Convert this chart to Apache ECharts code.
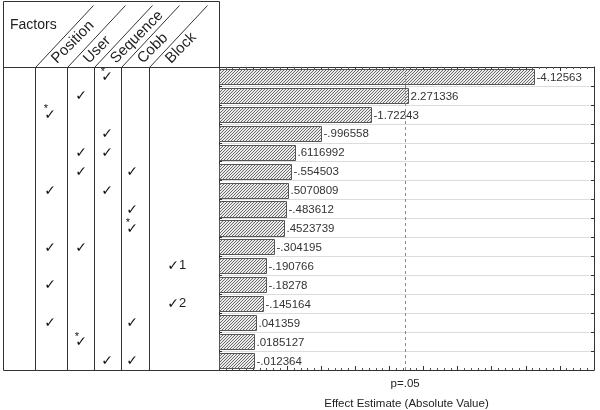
<!DOCTYPE html>
<html><head><meta charset="utf-8">
<script src="https://cdn.jsdelivr.net/npm/echarts@6/dist/echarts.min.js"></script>
<style>html,body{margin:0;padding:0;background:#fff}#c{width:600px;height:410px}</style>
</head><body><div id="c"></div>
<script>
// ---- data ----
const factorNames = ['Position', 'User', 'Sequence', 'Cobb', 'Block'];
const effectLabels = ['-4.12563', '2.271336', '-1.72243', '-.996558', '.6116992', '-.554503', '.5070809', '-.483612', '.4523739', '-.304195', '-.190766', '-.18278', '-.145164', '.041359', '.0185127', '-.012364'];
const effectValues = [-4.12563, 2.271336, -1.72243, -0.996558, 0.6116992, -0.554503, 0.5070809, -0.483612, 0.4523739, -0.304195, -0.190766, -0.18278, -0.145164, 0.041359, 0.0185127, -0.012364];
// checked factor columns per row (index into factorNames)
const rowChecks = [[2], [1], [0], [2], [1, 2], [1, 3], [0, 2], [3], [3], [0, 1], [4], [0], [4], [0, 3], [1], [2, 3]];
// column that carries an asterisk in each row (-1 = none)
const rowStar = [2, -1, 0, -1, -1, -1, -1, -1, 3, -1, -1, -1, -1, -1, 1, -1];
// block level note per row
const rowBlockNote = ['', '', '', '', '', '', '', '', '', '', '1', '', '2', '', '', ''];
const pLineValue = 2.228;
const pLineLabel = 'p=.05';
const xAxisName = 'Effect Estimate (Absolute Value)';
const headerTitle = 'Factors';
const xMin = -0.5, xMax = 5, xInterval = 0.5;

// ---- layout constants ----
const GL = 219, GR = 6, GT = 67, GB = 40;
const tblLeft = 3, tblTop = 1, tblRight = 219, tblBottom = 370;
const colLines = [35, 67, 94, 121, 149];
const checkX = [50, 81, 107, 132, 173];

const categories = effectValues.map((v, i) => 'F' + (i + 1));
const absValues = effectValues.map(v => Math.abs(v));

// hatch pattern
const pc = document.createElement('canvas');
pc.width = 3; pc.height = 3;
const pctx = pc.getContext('2d');
pctx.fillStyle = '#ececec'; pctx.fillRect(0, 0, 3, 3);
pctx.fillStyle = '#6a6a6a';
for (let x = 0; x < 3; x++) for (let y = 0; y < 3; y++) if ((x + y) % 3 === 2) pctx.fillRect(x, y, 1, 1);
const hatch = {image: pc, repeat: 'repeat'};

const chart = echarts.init(document.getElementById('c'), null, {renderer: 'canvas'});
const FONT = 'Liberation Sans, Arial, sans-serif';
const axisLineStyle = {color: '#333', width: 1};
const xAxisCommon = {
  type: 'value', min: xMin, max: xMax, interval: xInterval,
  axisLine: {show: true, onZero: false, lineStyle: axisLineStyle},
  axisTick: {show: true, inside: true, length: 4, lineStyle: {color: '#333'}},
  minorTick: {show: true, splitNumber: 5, length: 2, lineStyle: {color: '#555'}},
  axisLabel: {show: false}, splitLine: {show: false}, minorSplitLine: {show: false}
};
const yAxisCommon = {
  type: 'category', data: categories, inverse: true,
  axisLine: {show: true, onZero: false, lineStyle: axisLineStyle},
  axisTick: {show: true, inside: true, length: 3, lineStyle: {color: '#333'}},
  axisLabel: {show: false}
};
chart.setOption({
  animation: false,
  grid: {left: GL, right: GR, top: GT, bottom: GB, containLabel: false, outerBoundsMode: 'none'},
  xAxis: [
    Object.assign({}, xAxisCommon, {position: 'bottom', name: xAxisName, nameLocation: 'middle', nameGap: 28,
      nameTextStyle: {fontFamily: FONT, fontSize: 11.5, color: '#222'}}),
    Object.assign({}, xAxisCommon, {position: 'top'})
  ],
  yAxis: [
    Object.assign({}, yAxisCommon, {position: 'left', splitLine: {show: true, lineStyle: {color: '#dcdcdc', width: 1}}}),
    Object.assign({}, yAxisCommon, {position: 'right', splitLine: {show: false}})
  ],
  series: [{
    type: 'custom', xAxisIndex: 0, yAxisIndex: 0,
    data: absValues.map((v, i) => [v, categories[i]]),
    encode: {x: 0, y: 1},
    renderItem: function (params, api) {
      const cat = api.value(1);
      const s = api.coord([xMin, cat]);
      const e = api.coord([api.value(0), cat]);
      const h = api.size([0, 1])[1] * 0.8;
      const x0 = Math.round(s[0]) + 0.5, x1 = Math.round(e[0]) + 0.5;
      const y0 = Math.round(s[1] - h / 2) + 0.5, y1 = Math.round(s[1] + h / 2) + 0.5;
      return {type: 'group', children: [
        {type: 'rect', shape: {x: x0, y: y0, width: x1 - x0, height: y1 - y0},
          style: {fill: hatch, stroke: '#555', lineWidth: 1}},
        {type: 'text', x: x1 + 2, y: s[1] + 1,
          style: {text: effectLabels[params.dataIndex], fontFamily: FONT, fontSize: 11.5, fill: '#333', align: 'left', verticalAlign: 'middle'}}
      ]};
    },
    markLine: {
      silent: true, symbol: 'none', animation: false,
      lineStyle: {type: [3, 3], color: '#8a8a8a', width: 1},
      label: {show: true, position: 'end', distance: 8, formatter: pLineLabel, fontFamily: FONT, fontSize: 11.5, color: '#222'},
      data: [{xAxis: pLineValue}]
    }
  }]
});

// ---- table (factors) drawn as graphics aligned to the category axis ----
const g = [];
const lineStyle = {stroke: '#333', lineWidth: 1};
function L(x1, y1, x2, y2) { g.push({type: 'line', shape: {x1, y1, x2, y2}, style: lineStyle, silent: true}); }
L(tblLeft + 0.5, tblTop + 0.5, tblLeft + 0.5, tblBottom + 0.5);
L(tblLeft + 0.5, tblTop + 0.5, tblRight + 0.5, tblTop + 0.5);
L(tblRight + 0.5, tblTop + 0.5, tblRight + 0.5, GT);
L(tblLeft + 0.5, GT + 0.5, tblRight + 0.5, GT + 0.5);
L(tblLeft + 0.5, tblBottom + 0.5, tblRight + 0.5, tblBottom + 0.5);
colLines.forEach(x => {
  L(x + 0.5, GT + 0.5, x + 0.5, tblBottom + 0.5);
  g.push({type: 'line', shape: {x1: x + 0.5, y1: GT + 0.5, x2: x + 58.5, y2: 5.5}, style: lineStyle, silent: true});
});
g.push({type: 'text', x: 10, y: 25, style: {text: headerTitle, fontFamily: FONT, fontSize: 14, fill: '#222', align: 'left', verticalAlign: 'middle'}, silent: true});
factorNames.forEach((n, i) => {
  g.push({type: 'text', x: colLines[i] + 19, y: 61, rotation: Math.PI / 4,
    style: {text: n, fontFamily: FONT, fontSize: 15, fill: '#222', align: 'left', verticalAlign: 'middle'}, silent: true});
});
rowChecks.forEach((cols, r) => {
  const y = chart.convertToPixel({yAxisIndex: 0}, categories[r]);
  cols.forEach(c => {
    g.push({type: 'text', x: checkX[c], y: y + 1, style: {text: '\u2713', fontFamily: 'DejaVu Sans', fontSize: 14, fontWeight: 'bold', fill: '#111', align: 'center', verticalAlign: 'middle'}, silent: true});
    if (rowStar[r] === c) {
      g.push({type: 'text', x: checkX[c] - 4, y: y - 5, style: {text: '*', fontFamily: FONT, fontSize: 11, fill: '#111', align: 'center', verticalAlign: 'middle'}, silent: true});
    }
    if (c === 4 && rowBlockNote[r]) {
      g.push({type: 'text', x: checkX[c] + 6, y: y, style: {text: rowBlockNote[r], fontFamily: FONT, fontSize: 13, fill: '#222', align: 'left', verticalAlign: 'middle'}, silent: true});
    }
  });
});
chart.setOption({graphic: {elements: g}});
</script></body></html>
